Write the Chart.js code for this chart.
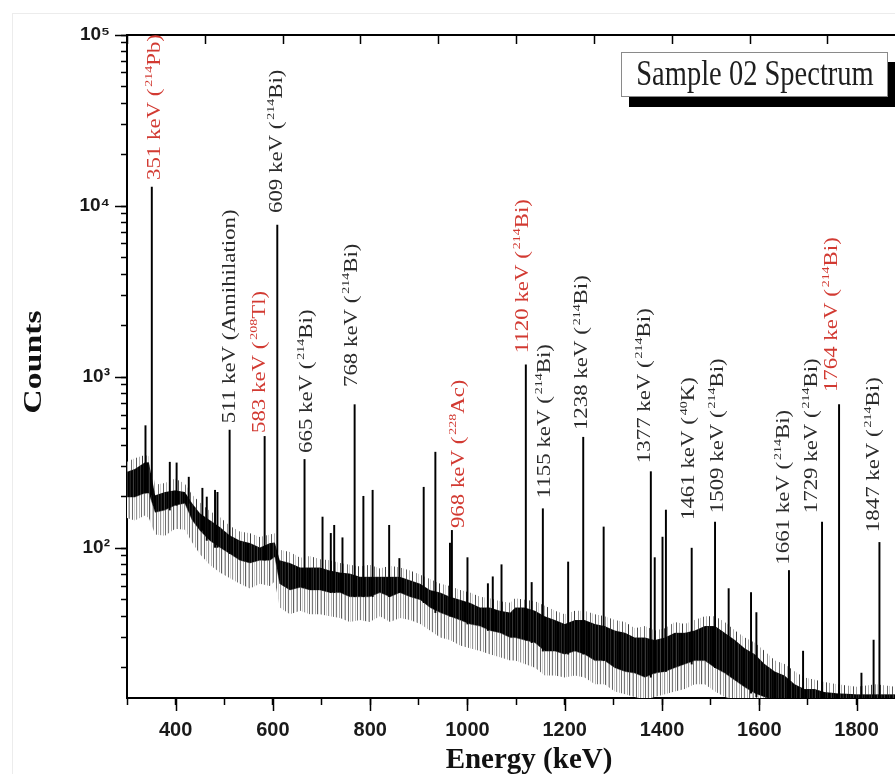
<!DOCTYPE html>
<html><head><meta charset="utf-8">
<script src="https://cdn.jsdelivr.net/npm/chart.js@4.4.1/dist/chart.umd.min.js"></script>
<style>html,body{margin:0;padding:0;background:#fff;overflow:hidden}canvas{display:block}</style>
</head><body>
<canvas id="c" width="895" height="774"></canvas>
<script>
// ---- spectrum background band, energy in keV, counts ----
const bandEnergy = [300,316,337,345,358,378,399,419,434,450,470,491,511,532,553,573,594,604,614,635,656,676,697,717,738,758,779,799,820,841,861,882,903,923,944,964,985,1005,1026,1046,1067,1088,1098,1118,1139,1159,1180,1200,1221,1241,1262,1282,1303,1324,1344,1365,1385,1406,1426,1447,1467,1488,1509,1529,1550,1570,1591,1611,1632,1652,1673,1693,1714,1734,1760,1800,1840,1879];
// tops of the fuzzy hairlines above the dark band
const bandFuzz = [320,335,350,345,235,240,255,238,205,185,165,152,135,125,122,116,120,122,98,95,88,90,86,85,82,80,78,80,76,79,77,74,70,66,62,60,57,55,52,51,49,48,51,50,49,46,43,41,43,43,41,40,38,37,34,35,33,34,37,36,38,40,40,37,33,30,28,25,22,21,19,17.5,17,16.5,16,15.5,16,15.5];
// dark core of the band (top / bottom)
const bandUpper = [280,290,318,318,204,213,218,213,183,160,146,133,119,111,107,101,107,108,85,82,77,77,77,74,72,71,68,68,68,68,68,65,62,57,55,52,50,48,45,45,43,42,45,45,43,40,38,36,38,38,36,35,33,32,30,30,29,30,32,32,33,35,35,32,29,26,24,21,19,18,16,15,15,14.4,14.2,14,14,14];
const bandLower = [199,199,210,210,162,167,178,183,146,127,111,101,93,85,82,85,85,89,62,57,59,57,57,55,55,52,52,52,55,52,55,52,50,45,42,40,38,36,35,33,32,30,30,29,28,25,25,24,25,24,22,22,20,19,18.6,17.6,18.6,19,20,21,22,22,20,18.6,16.9,15.4,14.2,13.5,13,13,13,13,13,13,13,13,13,13];
// lowest grey hairlines under the band
const bandFringe = [150,145,155,150,120,118,130,128,108,92,80,72,67,62,58,62,60,64,45,41,43,41,41,40,39,37,38,37,40,37,39,38,36,33,30,29,27,26,25,24,23,22,22,21,20,18,18,17.5,18,17.5,16,16,14.5,14,13.5,13,13.5,14,14.5,15,16,16,14.5,13.5,13,13,13,13,13,13,13,13,13,13,13,13,13,13];

// ---- peaks (energy keV, top counts, base counts) ----
const peakEnergy = [338,351,388,402,427,455,464,481,486,511,583,609,665,702,719,726,743,768,786,805,839,860,910,934,964,968,1000,1042,1052,1070,1120,1132,1155,1207,1238,1280,1377,1385,1401,1408,1461,1509,1537,1583,1594,1661,1690,1729,1764,1810,1835,1847];
const peakTop = [520,12900,318,315,260,224,199,218,212,490,450,7750,330,152,122,136,115,690,201,218,136,87,227,364,107,127,88,62,68,80,1180,63,170,83,445,133,280,88,116,167,100,142,58,55,42,74,25,142,690,18.6,29,108];
const peakBase = [210,205,167,178,183,127,111,101,101,93,85,89,59,57,55,55,55,52,52,52,52,55,48,42,40,40,36,33,33,32,29,28,25,24,24,22,17.6,18.6,19,19,21,20,18.6,14.2,13.5,13.3,13.3,13.3,13.3,13.3,13.3,13.3];

// ---- peak labels ----
const labelHead = ['351 keV (','511 keV (Annihilation)','583 keV (','609 keV (','665 keV (','768 keV (','968 keV (','1120 keV (','1155 keV (','1238 keV (','1377 keV (','1461 keV (','1509 keV (','1661 keV (','1729 keV (','1764 keV (','1847 keV ('];
const labelMass = ['214','','208','214','214','214','228','214','214','214','214','40','214','214','214','214','214'];
const labelTail = ['Pb)','','Tl)','Bi)','Bi)','Bi)','Ac)','Bi)','Bi)','Bi)','Bi)','K)','Bi)','Bi)','Bi)','Bi)','Bi)'];
const labelEnergy = [357.6,511.7,573.4,608.3,670,762.5,982.4,1114,1159,1237,1365,1457,1515,1652,1708,1749,1837];
const labelCounts = [14190,538,471,9100,360,875,131,1380,196,490,314,146,160,80,160,817,124];
const labelHighlighted = [true,false,true,false,false,false,true,true,false,false,false,false,false,false,false,true,false];

// ---- axes ----
const xMajorTicks = [400,600,800,1000,1200,1400,1600,1800];
const xTickLabels = ['400','600','800','1000','1200','1400','1600','1800'];
const yMajorTicks = [100,1000,10000,100000];
const yTickLabels = ['10²','10³','10⁴','10⁵'];
const titleText = 'Sample 02 Spectrum';
const xTitle = 'Energy (keV)';
const yTitle = 'Counts';

const X_MIN = 300, X_MAX = 1879, Y_MIN = 13.3, Y_MAX = 100000;
const yAllTicks = [];
[10,100,1000,10000].forEach(d => { for (let m = 1; m <= 9; m++) { const v = m*d; if (v >= Y_MIN && v <= Y_MAX) yAllTicks.push(v); } });
yAllTicks.push(100000);

const SERIF = '"Liberation Serif","Times New Roman",serif';
const SANS = '"Liberation Sans",Arial,sans-serif';

const canvas = document.getElementById('c');
const ctx0 = canvas.getContext('2d');
function stripes(colors) {
  const c = document.createElement('canvas');
  c.width = colors.length; c.height = 4;
  const g = c.getContext('2d');
  colors.forEach((col, i) => { g.fillStyle = col; g.fillRect(i, 0, 1, 4); });
  return ctx0.createPattern(c, 'repeat');
}
// hatch textures imitating the dense channel hairlines
const coreFill = stripes(['#000','#161616','#050505','#2e2e2e','#000','#0c0c0c','#222','#000','#060606','#3c3c3c','#000','#111','#000','#1e1e1e','#080808','#000','#333','#020202','#000','#141414','#000','#282828','#050505','#000','#0e0e0e','#383838','#000','#1a1a1a','#000','#0a0a0a','#000']);
const fringeFill = stripes(['#7a7a7a','#f6f6f6','#ffffff','#a8a8a8','#ffffff','#5e5e5e','#e8e8e8','#ffffff','#c4c4c4','#8e8e8e','#ffffff','#fafafa','#6a6a6a','#ffffff','#d0d0d0','#ffffff','#959595','#f0f0f0','#ffffff','#b5b5b5','#ffffff','#707070','#ffffff','#ebebeb']);
const fuzzFill = stripes(['#ffffff','#5a5a5a','#ffffff','#ffffff','#b0b0b0','#ffffff','#ffffff','#3a3a3a','#ffffff','#ffffff','#ffffff','#909090','#ffffff','#d8d8d8','#ffffff','#ffffff','#4e4e4e','#ffffff','#ffffff','#a0a0a0','#ffffff','#ffffff','#ffffff','#6a6a6a','#ffffff','#cfcfcf','#ffffff']);

function drawPeakLabel(ctx, x, y, head, mass, tail, color) {
  ctx.save();
  ctx.translate(x, y);
  ctx.rotate(-Math.PI / 2);
  ctx.scale(1.27, 1);
  ctx.fillStyle = color;
  ctx.textBaseline = 'middle';
  ctx.textAlign = 'left';
  ctx.font = '18px ' + SERIF;
  let cx = 0;
  ctx.fillText(head, cx, 0);
  cx += ctx.measureText(head).width;
  if (mass) {
    cx += 1.5;
    ctx.font = '11px ' + SERIF;
    ctx.fillText(mass, cx, -6);
    cx += ctx.measureText(mass).width;
    ctx.font = '18px ' + SERIF;
    ctx.fillText(tail, cx, 0);
  }
  ctx.restore();
}

const decor = {
  id: 'decor',
  beforeDraw(chart) {
    const ctx = chart.ctx;
    ctx.save();
    ctx.fillStyle = '#fff';
    ctx.fillRect(0, 0, chart.width, chart.height);
    ctx.strokeStyle = '#ececec';
    ctx.lineWidth = 1;
    ctx.strokeRect(12.5, 13.5, 950, 850);
    ctx.restore();
  },
  afterDraw(chart) {
    const ctx = chart.ctx;
    const xs = chart.scales.x, ys = chart.scales.y, x2 = chart.scales.x2;
    const ca = chart.chartArea;
    ctx.save();
    ctx.strokeStyle = '#000';
    ctx.lineWidth = 1.5;
    xMajorTicks.forEach(v => {
      const px = Math.round(xs.getPixelForValue(v)) + 0.5;
      ctx.beginPath(); ctx.moveTo(px, ca.bottom); ctx.lineTo(px, ca.bottom + 13); ctx.stroke();
    });
    yMajorTicks.forEach(v => {
      const py = Math.round(ys.getPixelForValue(v)) + 0.5;
      ctx.beginPath(); ctx.moveTo(ca.left - 12, py); ctx.lineTo(ca.left, py); ctx.stroke();
    });
    x2.ticks.forEach(t => {
      const px = Math.round(x2.getPixelForValue(t.value)) + 0.5;
      ctx.beginPath(); ctx.moveTo(px, ca.top); ctx.lineTo(px, ca.top + 9); ctx.stroke();
    });
    ctx.restore();

    ctx.save();
    ctx.beginPath(); ctx.rect(ca.left, ca.top, ca.right - ca.left, ca.bottom - ca.top); ctx.clip();
    labelHead.forEach((h, i) => {
      const px = xs.getPixelForValue(labelEnergy[i]);
      const py = ys.getPixelForValue(labelCounts[i]);
      drawPeakLabel(ctx, px, py, h, labelMass[i], labelTail[i], labelHighlighted[i] ? '#d23a32' : '#2b2b2b');
    });
    ctx.restore();

    ctx.save();
    ctx.fillStyle = '#000';
    ctx.fillRect(629, 62, 270, 45);
    ctx.fillStyle = '#fff';
    ctx.fillRect(621, 52, 267, 45);
    ctx.strokeStyle = '#8a8a8a';
    ctx.lineWidth = 1;
    ctx.strokeRect(621.5, 52.5, 266, 44);
    ctx.translate(755, 85);
    ctx.scale(1, 1.22);
    ctx.fillStyle = '#1e1e1e';
    ctx.font = '28.5px ' + SERIF;
    ctx.textAlign = 'center';
    ctx.textBaseline = 'alphabetic';
    ctx.fillText(titleText, 0, 0);
    ctx.restore();

    ctx.save();
    ctx.fillStyle = '#111';
    ctx.font = 'bold 29px ' + SERIF;
    ctx.textAlign = 'center';
    ctx.textBaseline = 'alphabetic';
    ctx.fillText(xTitle, 529, 768);
    ctx.restore();
    ctx.save();
    ctx.fillStyle = '#111';
    ctx.translate(34, 362);
    ctx.rotate(-Math.PI / 2);
    ctx.scale(1.3, 1);
    ctx.font = 'bold 26px ' + SERIF;
    ctx.textAlign = 'center';
    ctx.textBaseline = 'middle';
    ctx.fillText(yTitle, 0, 0);
    ctx.restore();
  }
};

const pts = arr => bandEnergy.map((e, i) => ({ x: e, y: arr[i] }));

new Chart(ctx0, {
  data: {
    datasets: [
      { type: 'bar', label: 'Peaks', order: 0, grouped: false, barThickness: 1.3,
        backgroundColor: '#000', borderWidth: 0,
        data: peakEnergy.map((e, i) => ({ x: e, y: [peakBase[i], peakTop[i]] })) },
      { type: 'line', label: 'Background fuzz', order: 1, fill: '+1',
        borderColor: 'rgba(0,0,0,0)', backgroundColor: fuzzFill, borderWidth: 0, pointRadius: 0, tension: 0,
        data: pts(bandFuzz) },
      { type: 'line', label: 'Background high', order: 2, fill: '+1',
        borderColor: '#1a1a1a', backgroundColor: coreFill, borderWidth: 1, pointRadius: 0, tension: 0,
        data: pts(bandUpper) },
      { type: 'line', label: 'Background low', order: 3, fill: '+1',
        borderColor: 'rgba(40,40,40,0.5)', backgroundColor: fringeFill, borderWidth: 1, pointRadius: 0, tension: 0,
        data: pts(bandLower) },
      { type: 'line', label: 'Background fringe', order: 4, fill: false,
        borderColor: 'rgba(0,0,0,0)', borderWidth: 0, pointRadius: 0, tension: 0,
        data: pts(bandFringe) }
    ]
  },
  options: {
    responsive: false,
    devicePixelRatio: 1,
    animation: false,
    events: [],
    layout: { padding: 0 },
    plugins: { legend: { display: false }, tooltip: { enabled: false }, title: { display: false } },
    scales: {
      x: {
        type: 'linear', position: 'bottom', min: X_MIN, max: X_MAX, offset: false,
        afterFit: s => { s.height = 76; },
        ticks: {
          stepSize: 100, includeBounds: false, autoSkip: false, maxRotation: 0, padding: 13,
          color: '#1a1a1a', font: { family: SANS, size: 20, weight: 'bold' },
          callback: v => { const i = xMajorTicks.indexOf(v); return i >= 0 ? xTickLabels[i] : ''; }
        },
        grid: { drawOnChartArea: false, drawTicks: true, tickLength: 7, color: '#000', tickWidth: 1.5, offset: false },
        border: { display: true, color: '#000', width: 2 }
      },
      x2: {
        type: 'linear', position: 'top', min: 0, max: (X_MAX - X_MIN) / 160, offset: false,
        afterFit: s => { s.height = 35; },
        ticks: { display: false, stepSize: 1, includeBounds: false },
        grid: { display: false },
        border: { display: true, color: '#000', width: 2 }
      },
      y: {
        type: 'logarithmic', position: 'left', min: Y_MIN, max: Y_MAX,
        afterFit: s => { s.width = 127; },
        afterBuildTicks: s => { s.ticks = yAllTicks.map(v => ({ value: v })); },
        ticks: {
          autoSkip: false, padding: 11, color: '#1a1a1a',
          font: { family: SANS, size: 19, weight: 'bold' },
          callback: v => { const i = yMajorTicks.indexOf(v); return i >= 0 ? yTickLabels[i] : ''; }
        },
        grid: { drawOnChartArea: false, drawTicks: true, tickLength: 6, color: '#000', tickWidth: 1.5 },
        border: { display: true, color: '#000', width: 2 }
      }
    }
  },
  plugins: [decor]
});
</script>
</body></html>
